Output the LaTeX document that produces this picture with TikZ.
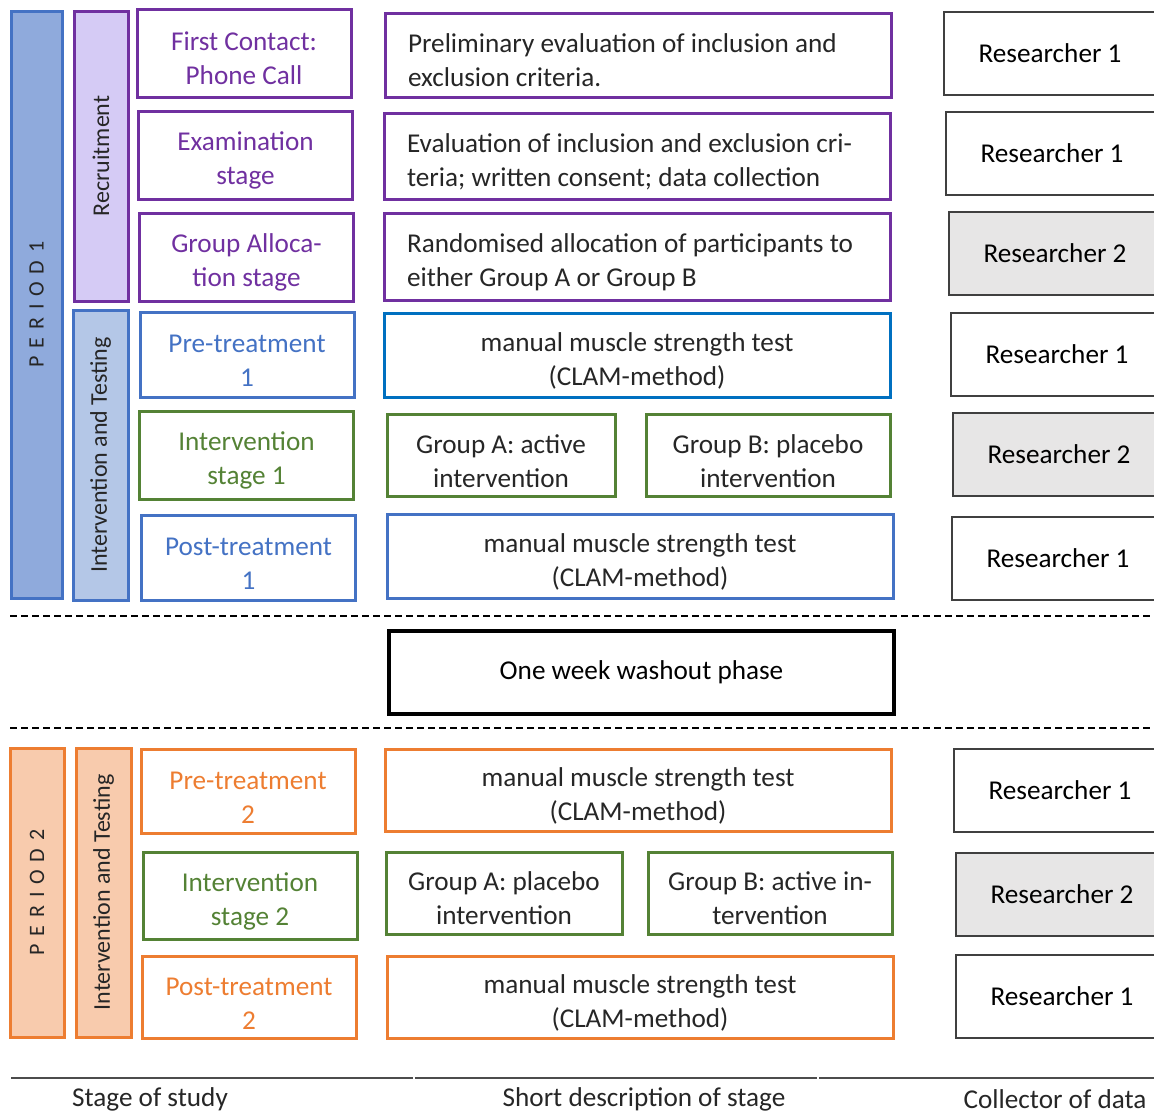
\documentclass[tikz,border=0pt]{standalone}
\usepackage{fontspec}
\setmainfont{Carlito}
\newfontfamily\spacedfont[LetterSpace=13]{Carlito}
\usepackage{tikz}
\usetikzlibrary{positioning}
\usepackage{xcolor}
\definecolor{lilac}{HTML}{7030A0}
\definecolor{lilacfill}{HTML}{D5CBF5}
\definecolor{steel}{HTML}{4472C4}
\definecolor{steelfill}{HTML}{8FAADC}
\definecolor{steellight}{HTML}{B4C7E7}
\definecolor{ocean}{HTML}{0070C0}
\definecolor{leaf}{HTML}{548235}
\definecolor{amber}{HTML}{ED7D31}
\definecolor{amberfill}{HTML}{F8CBAD}
\definecolor{shade}{HTML}{E7E6E6}
\definecolor{ink}{HTML}{262626}

\begin{document}
\begin{tikzpicture}[x=0.5pt, y=-0.5pt,
    every node/.style={font=\fontsize{13.6}{17}\selectfont, inner sep=0pt},
    lowered/.style={execute at begin node=\rule{0pt}{15pt}},
    bar/.style={draw=#1, line width=1.5pt, rotate=90, font=\fontsize{12}{14}\selectfont, text=ink},
    stagebox/.style={draw=#1, text=#1, line width=1.5pt, lowered, text width=100pt, align=flush center,
                     minimum width=107pt, minimum height=43pt},
    descbox/.style={draw=#1, text=ink, line width=1.5pt, lowered, minimum width=253pt, minimum height=42pt},
    groupbox/.style={draw=leaf, text=ink, line width=1.5pt, lowered, align=flush center, minimum height=41pt},
    resbox/.style={draw=black!75, line width=1pt, anchor=west, minimum width=106pt, minimum height=41.5pt},
    sep/.style={dash pattern=on 3.5pt off 2pt, line width=0.8pt},
    rule/.style={draw=black!70, line width=1pt}]
  \useasboundingbox (0,0) rectangle (1154,1115);

  % period 1
  \node[bar=steel, fill=steelfill, minimum width=293.5pt, minimum height=25.5pt,
        font=\spacedfont\fontsize{11}{12}\selectfont] (per1) at (36.5,304.5) {P E R I O D 1};
  \node[bar=lilac, fill=lilacfill, minimum width=145pt, minimum height=27pt] (recr) at (101,156) {Recruitment};
  \node[bar=steel, fill=steellight, minimum width=145pt, minimum height=27.5pt] (int1bar) at (100.5,455) {Intervention and Testing};

  \node[stagebox=lilac, minimum height=44pt] (first) at (244,53) {First Contact:\\Phone Call};
  \node[stagebox=lilac, minimum height=44pt] (exam) at (245.5,155) {Examination\\stage};
  \node[stagebox=lilac, minimum height=44pt] (alloc) at (246.5,257) {Group Alloca-\\tion stage};
  \node[stagebox=steel, minimum height=42.5pt] (pre1) at (247,354.5) {Pre-treatment\\1};
  \node[stagebox=leaf, minimum height=44pt] (int1) at (246.5,455) {Intervention\\stage 1};
  \node[stagebox=steel, minimum height=42.5pt] (post1) at (248.5,557.5) {Post-treatment\\1};

  \node[descbox=lilac, text width=230pt, align=flush left] (d1) at (638,55)
       {Preliminary evaluation of inclusion and\\exclusion criteria.};
  \node[descbox=lilac, text width=230pt, align=flush left, minimum height=43pt] (d2) at (637,156)
       {Evaluation of inclusion and exclusion cri-\\teria; written consent; data collection};
  \node[descbox=lilac, text width=230pt, align=flush left, minimum height=43.5pt] (d3) at (637,256.5)
       {Randomised allocation of participants to\\either Group A or Group B};
  \node[descbox=ocean, text width=240pt, align=flush center] (d4) at (637,355) {manual muscle strength test\\(CLAM-method)};
  \node[groupbox, text width=108pt, minimum width=114pt] (ga1) at (501,455.5) {Group A: active\\intervention};
  \node[groupbox, text width=116pt, minimum width=122pt] (gb1) at (768,455.5) {Group B: placebo\\intervention};
  \node[descbox=steel, text width=240pt, align=flush center] (d6) at (640,556.5) {manual muscle strength test\\(CLAM-method)};

  \node[resbox] (r1) at (943,53.5) {Researcher 1};
  \node[resbox] (r2) at (945,153.5) {Researcher 1};
  \node[resbox, fill=shade] (r3) at (948,253.5) {Researcher 2};
  \node[resbox] (r4) at (950,354.5) {Researcher 1};
  \node[resbox, fill=shade] (r5) at (952,454.5) {Researcher 2};
  \node[resbox] (r6) at (951,558.5) {Researcher 1};

  % washout
  \draw[sep] (10,616) -- (1154,616);
  \node[draw, line width=2pt, minimum width=252.5pt, minimum height=41.5pt] (wash) at (641.5,672.5) {One week washout phase};
  \draw[sep] (10,728) -- (1154,728);

  % period 2
  \node[bar=amber, fill=amberfill, minimum width=144.5pt, minimum height=27pt,
        font=\spacedfont\fontsize{11}{12}\selectfont] (per2) at (37,892.5) {P E R I O D 2};
  \node[bar=amber, fill=amberfill, minimum width=144.5pt, minimum height=27.5pt] (int2bar) at (103.5,892.5) {Intervention and Testing};

  \node[stagebox=amber, minimum height=42pt] (pre2) at (248,791) {Pre-treatment\\2};
  \node[stagebox=leaf, minimum height=43.5pt] (int2) at (250,895.5) {Intervention\\stage 2};
  \node[stagebox=amber, minimum height=41pt] (post2) at (249,997) {Post-treatment\\2};

  \node[descbox=amber, text width=240pt, align=flush center, minimum height=41pt] (d7) at (638,790) {manual muscle strength test\\(CLAM-method)};
  \node[groupbox, text width=112pt, minimum width=118pt] (ga2) at (504,893) {Group A: placebo\\intervention};
  \node[groupbox, text width=116pt, minimum width=122pt] (gb2) at (770,893) {Group B: active in-\\tervention};
  \node[descbox=amber, text width=240pt, align=flush center, minimum height=41pt] (d9) at (640,997) {manual muscle strength test\\(CLAM-method)};

  \node[resbox] (r7) at (953,790) {Researcher 1};
  \node[resbox, fill=shade] (r8) at (955,894) {Researcher 2};
  \node[resbox] (r9) at (955,996) {Researcher 1};

  % column captions
  \draw[rule] (11,1078) -- (413,1078);
  \draw[rule] (415,1078) -- (817,1078);
  \draw[rule] (819,1078) -- (1154,1078);
  \node[text=ink] (cap1) at (150,1099) {Stage of study};
  \node[text=ink] (cap2) at (644,1099) {Short description of stage};
  \node[text=ink] (cap3) at (1055,1099) {Collector of data};
\end{tikzpicture}
\end{document}
